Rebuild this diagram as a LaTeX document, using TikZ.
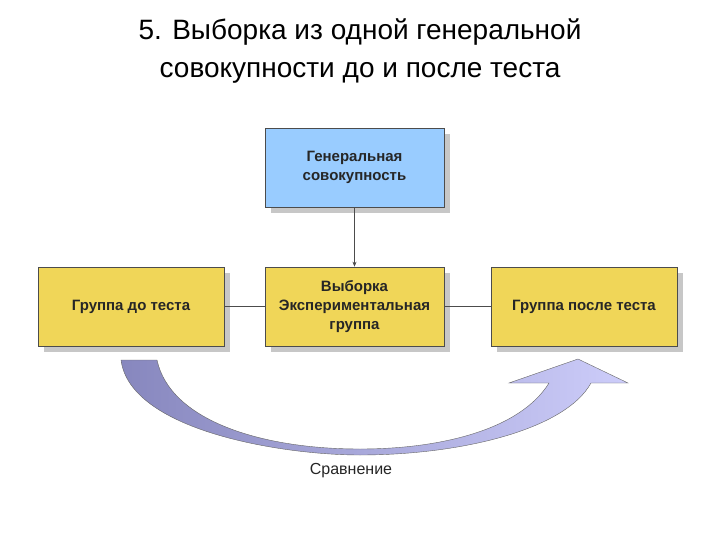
\documentclass[tikz,border=0pt]{standalone}
\usepackage{fontspec}
\usetikzlibrary{arrows.meta}
\setmainfont{Liberation Sans}
\begin{document}
\begin{tikzpicture}[x=1pt,y=-1pt,
  bx/.style={draw=black!70,line width=0.6pt,minimum width=179pt,minimum height=79pt,align=center,font=\fontsize{15}{19}\selectfont\bfseries,inner sep=0pt,text=black!85},
  ln/.style={draw=black!70,line width=0.6pt}]
\useasboundingbox (0,0) rectangle (720,540);
\fill[white] (0,0) rectangle (720,540);
\node[font=\fontsize{28}{38}\selectfont,align=center] (title) at (360,51) {5. Выборка из одной генеральной\\совокупности до и после теста};
% shadows
\foreach \a/\b/\c/\d in {265/128/444/207,38/267/224/346,265/267/444/346,491/267/677/346}
  \fill[black!22] (\a+6,\b+6) rectangle (\c+6,\d+6);
\node[bx,fill={rgb,255:red,153;green,204;blue,255}] (gen) at (354.5,167.5) {Генеральная\\совокупность};
\node[bx,fill={rgb,255:red,240;green,214;blue,88},minimum width=186pt] (before) at (131,306.5) {Группа до теста};
\node[bx,fill={rgb,255:red,240;green,214;blue,88}] (mid) at (354.5,306.5) {Выборка\\Экспериментальная\\группа};
\node[bx,fill={rgb,255:red,240;green,214;blue,88},minimum width=186pt] (after) at (584,306.5) {Группа после теста};
\draw[ln,-{Stealth[length=5pt,width=4pt]}] (gen) -- (mid);
\draw[ln] (before) -- (mid);
\draw[ln] (mid) -- (after);
\shade[left color={rgb,255:red,135;green,135;blue,190},right color={rgb,255:red,205;green,205;blue,250},draw=black!60,line width=0.4pt]
 (121,360) .. controls (130,430) and (280,455) .. (360,455) .. controls (460,455) and (565,430) .. (591,383)
 -- (628,383) -- (578,359) -- (509,383) -- (549,383)
 .. controls (520,430) and (440,449) .. (360,449) .. controls (260,449) and (170,420) .. (157,360) -- cycle;
\node[font=\fontsize{16}{18}\selectfont,text=black!85] (cmp) at (351,471) {Сравнение};
\end{tikzpicture}
\end{document}
